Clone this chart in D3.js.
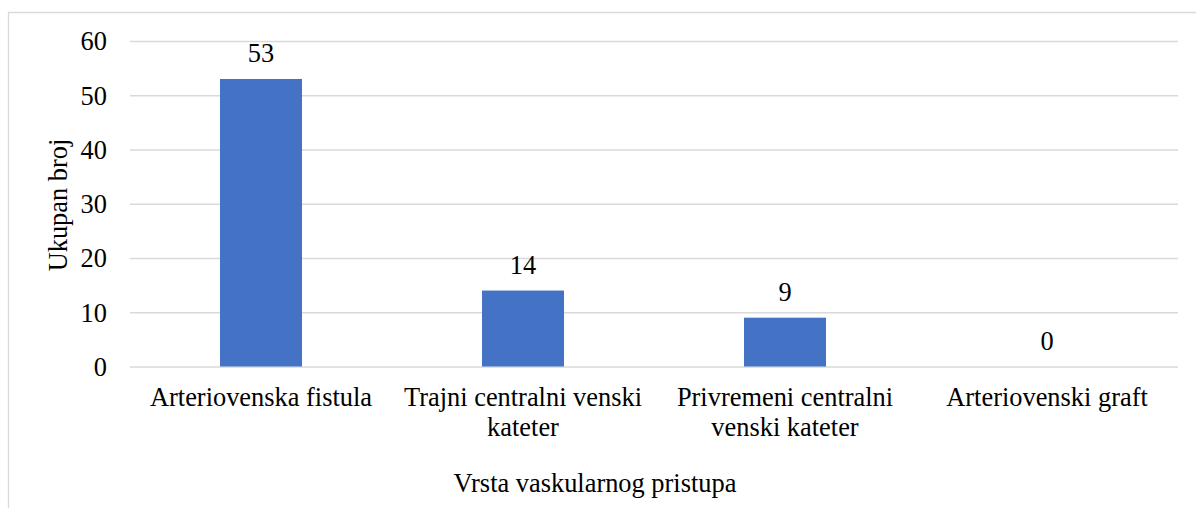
<!DOCTYPE html>
<html>
<head>
<meta charset="utf-8">
<script src="https://cdn.jsdelivr.net/npm/d3@7"></script>
<style>
  body { margin: 0; background: #fff; }
  svg text { font-family: "Liberation Serif", "Times New Roman", serif; fill: #000; }
</style>
</head>
<body>
<div id="chart"></div>
<script>
// data
var categories = [
  ["Arteriovenska fistula"],
  ["Trajni centralni venski", "kateter"],
  ["Privremeni centralni", "venski kateter"],
  ["Arteriovenski graft"]
];
var values = [53, 14, 9, 0];
var yTicks = [0, 10, 20, 30, 40, 50, 60];
var xTitle = "Vrsta vaskularnog pristupa";
var yTitle = "Ukupan broj";

var svgWidth = 1196;
var svgHeight = 508;
var plotLeft = 130, plotRight = 1178, plotTop = 41, plotBottom = 366.5;
var fontSize = "26.4px";

var svg = d3.select("#chart")
  .append("svg")
  .attr("width", svgWidth)
  .attr("height", svgHeight)
  .style("font-family", "'Liberation Serif', 'Times New Roman', serif");

// chart frame (only left and top edges fall inside the picture)
svg.append("path")
  .attr("d", "M8.5,520V12.5H1200")
  .attr("fill", "none")
  .attr("stroke", "#d9d9d9")
  .attr("stroke-width", 1.3);

// scales
var xScale = d3.scaleBand()
  .domain(d3.range(categories.length))
  .range([plotLeft, plotRight])
  .paddingInner(0.687)
  .paddingOuter(0.3435);

var yScale = d3.scaleLinear()
  .domain([0, 60])
  .range([plotBottom, plotTop]);

// gridlines + y labels
var yAxis = d3.axisLeft(yScale)
  .tickValues(yTicks)
  .tickSize(-(plotRight - plotLeft))
  .tickPadding(23);
var gy = svg.append("g")
  .attr("transform", "translate(" + plotLeft + ",0)")
  .call(yAxis)
  .attr("font-family", null)
  .attr("font-size", null);
gy.select(".domain").remove();
gy.selectAll(".tick line")
  .attr("stroke", "#d9d9d9")
  .attr("stroke-width", 1.3);
gy.selectAll(".tick text")
  .attr("font-size", fontSize)
  .attr("fill", "#000")
  .attr("dy", "0.34em");

// bars
svg.selectAll("rect.bar")
  .data(values)
  .enter()
  .append("rect")
  .attr("class", "bar")
  .attr("x", function(d, i) { return xScale(i); })
  .attr("y", function(d) { return yScale(d); })
  .attr("width", xScale.bandwidth())
  .attr("height", function(d) { return yScale(0) - yScale(d); })
  .attr("fill", "#4472c4");

// value labels
svg.selectAll("text.val")
  .data(values)
  .enter()
  .append("text")
  .attr("class", "val")
  .attr("x", function(d, i) { return xScale(i) + xScale.bandwidth() / 2; })
  .attr("y", function(d) { return yScale(d) - 16.5; })
  .attr("text-anchor", "middle")
  .attr("font-size", fontSize)
  .text(function(d) { return d; });

// category labels
var cat = svg.selectAll("text.cat")
  .data(categories)
  .enter()
  .append("text")
  .attr("class", "cat")
  .attr("text-anchor", "middle")
  .attr("font-size", fontSize)
  .attr("x", function(d, i) { return xScale(i) + xScale.bandwidth() / 2; })
  .attr("y", 405.5);
cat.selectAll("tspan")
  .data(function(d) { return d; })
  .enter()
  .append("tspan")
  .attr("x", function() { return d3.select(this.parentNode).attr("x"); })
  .attr("dy", function(d, i) { return i === 0 ? 0 : 30; })
  .text(function(d) { return d; });

// axis titles
svg.append("text")
  .attr("x", 595)
  .attr("y", 492)
  .attr("text-anchor", "middle")
  .attr("font-size", fontSize)
  .text(xTitle);

svg.append("text")
  .attr("transform", "translate(67,205) rotate(-90)")
  .attr("text-anchor", "middle")
  .attr("font-size", fontSize)
  .text(yTitle);
</script>
</body>
</html>
